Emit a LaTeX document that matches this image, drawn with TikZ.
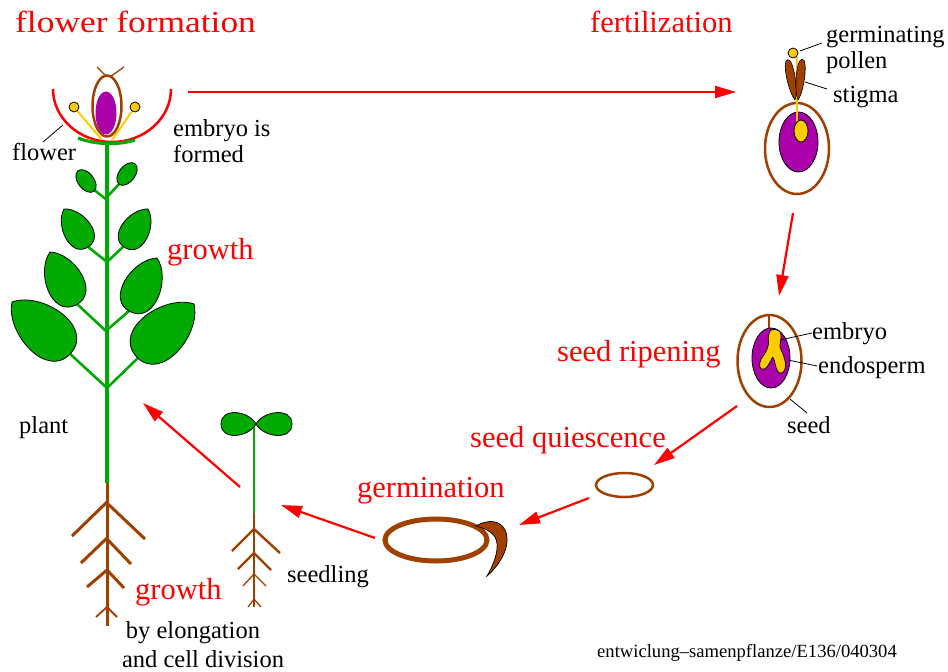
\documentclass[tikz,border=0pt]{standalone}
\usepackage{fontspec}
\setmainfont{Liberation Serif}
\usetikzlibrary{arrows.meta}

\definecolor{stagered}{RGB}{255,0,0}
\definecolor{leafgreen}{RGB}{0,170,0}
\definecolor{rootbrown}{RGB}{160,64,0}
\definecolor{ovarypurple}{RGB}{170,0,170}
\definecolor{pollenyellow}{RGB}{255,204,0}

\tikzset{
  stage/.style={text=stagered, font=\fontsize{30.5}{36}\selectfont, anchor=base west, inner sep=0pt},
  txt/.style={text=black, font=\fontsize{24.5}{29}\selectfont, anchor=base west, inner sep=0pt},
  credit/.style={text=black, font=\fontsize{18.6}{22}\selectfont, anchor=base west, inner sep=0pt},
  lifearrow/.style={draw=stagered, line width=2.2pt, -{Triangle[length=21pt,width=12pt]}},
  stemline/.style={draw=leafgreen, line width=3.2pt},
  twig/.style={draw=leafgreen, line width=2.6pt},
  rootline/.style={draw=rootbrown, line width=3pt},
  thinroot/.style={draw=rootbrown, line width=1.8pt},
  leader/.style={draw=black, line width=0.8pt},
  leafcol/.style={fill=leafgreen, draw=black, line width=0.8pt},
  seedcoat/.style={draw=rootbrown, line width=2.5pt},
  leaf/.pic={\path[leafcol] (0,0) .. controls (0.2,0.35) and (1,0.45) .. (1,0)
      .. controls (1,-0.45) and (0.2,-0.35) .. (0,0) -- cycle;},
}

\begin{document}
\begin{tikzpicture}[x=1pt, y=-1pt, line cap=butt]
\useasboundingbox (0,0) rectangle (948,672);

% ---------- stage titles ----------
\node[stage] (tflower) at (15,32) {\scalebox{1.16}[1]{flower formation}};
\node[stage] (tfert) at (590,32) {fertilization};
\node[stage] (tgrowup) at (167,259) {growth};
\node[stage] (tripen) at (557,361) {seed ripening};
\node[stage] (tquies) at (470,447) {seed quiescence};
\node[stage] (tgerm) at (357,497) {germination};
\node[stage] (tgrowlow) at (135,599) {growth};

% ---------- plant: stem and roots ----------
\draw[stemline] (107,141) -- (107,483);
\draw[rootline] (107,483) -- (107,626);
\draw[rootline] (107,502) -- (72,536);
\draw[rootline] (108,504) -- (145,539);
\draw[rootline] (107,538) -- (81,563);
\draw[rootline] (108,540) -- (131,564);
\draw[rootline] (107,570) -- (87,587);
\draw[rootline] (108,571) -- (124,588);
\draw[thinroot] (107,607) -- (96,617);
\draw[thinroot] (107,607) -- (117,617);

% ---------- plant: leaves ----------
\draw[twig] (107,200) -- (93,189);
\draw[twig] (107,197) -- (121,182);
\draw[twig] (107,262) -- (87,246);
\draw[twig] (107,262) -- (124,246);
\draw[twig] (107,332) -- (77,304);
\draw[twig] (107,330) -- (129,311);
\draw[twig] (107,388) -- (68,352);
\draw[twig] (107,388) -- (140,356);

\path[leafcol, shift={(86,181)}, rotate=-52] (0,0) ellipse[x radius=13, y radius=8];
\path[leafcol, shift={(127,174)}, rotate=52] (0,0) ellipse[x radius=13, y radius=8];
\pic[shift={(64,209)}, rotate=-57.7, xscale=45, yscale=47] {leaf};
\pic[shift={(148,209)}, rotate=-121, xscale=45, yscale=47] {leaf};
\pic[shift={(50,252)}, rotate=-64, xscale=59, yscale=62] {leaf};
\pic[shift={(157,258)}, rotate=-116.6, xscale=60, yscale=62] {leaf};
\pic[shift={(12,302)}, rotate=-41, xscale=78, yscale=80] {leaf};
\pic[shift={(194,304)}, rotate=-137.6, xscale=78, yscale=80] {leaf};

% ---------- flower ----------
\draw[stagered, line width=2.5pt] (53,89) arc[start angle=180, end angle=0, x radius=59, y radius=53];
\draw[pollenyellow, line width=2pt] (102,140) -- (74,107);
\draw[pollenyellow, line width=2pt] (112,140) -- (135,107);
\draw[fill=pollenyellow, line width=0.8pt] (74,107) circle[radius=5];
\draw[fill=pollenyellow, line width=0.8pt] (135,107) circle[radius=5];
\draw[stemline] (78,138) .. controls (95,145) and (120,145) .. (135,140);
\draw[rootbrown, line width=1.3pt] (97,67) -- (107,77);
\draw[rootbrown, line width=1.3pt] (124,67) -- (110,77);
\draw[rootbrown, line width=2.5pt, fill=white] (107,106) ellipse[x radius=14.5, y radius=30.5];
\fill[ovarypurple] (106,113) ellipse[x radius=10.5, y radius=21.5];

\node[txt] (lflower) at (12,160) {flower};
\coordinate (pflower) at (63,125);
\draw[leader] (pflower) -- (43,142);
\node[txt] (lembryo1) at (173,136) {embryo is};
\node[txt] (lembryo2) at (173,162) {formed};
\node[txt] (lplant) at (19,433) {plant};
\node[txt, anchor=base] (lelong) at (193,638) {by elongation};
\node[txt, anchor=base] (lcell) at (203,667) {and cell division};

% ---------- fertilization ----------
\draw[seedcoat] (797,148.5) ellipse[x radius=32, y radius=45.5];
\draw[fill=ovarypurple, line width=0.8pt] (798.5,142) ellipse[x radius=19.5, y radius=30];
\draw[pollenyellow, line width=2pt] (797,57) -- (797,122);
\draw[fill=pollenyellow, line width=0.8pt] (801,131) ellipse[x radius=7, y radius=11];
\tikzset{leafcol/.style={fill=rootbrown, draw=black, line width=0.6pt}}
\pic[shift={(795,100)}, rotate=100.4, xscale=41, yscale=14] {leaf};
\pic[shift={(798,100)}, rotate=84, xscale=41, yscale=14] {leaf};
\tikzset{leafcol/.style={fill=leafgreen, draw=black, line width=0.8pt}}
\draw[fill=pollenyellow, line width=0.8pt] (793,53) circle[radius=5];

\node[txt] (lgerm1) at (826,42) {germinating};
\node[txt] (lgerm2) at (826,68) {pollen};
\node[txt] (lstigma) at (833,102) {stigma};
\coordinate (ppollen) at (800,51);
\coordinate (pstigma) at (805,82);
\draw[leader] (ppollen) -- (822,43);
\draw[leader] (pstigma) -- (827,89);

% ---------- ripening seed ----------
\draw[seedcoat] (769.5,361) ellipse[x radius=32, y radius=46];
\draw[rootbrown, line width=2pt] (769,316) -- (769,328);
\draw[fill=ovarypurple, line width=0.8pt] (771,358) ellipse[x radius=19, y radius=30];
\begin{scope}[shift={(730,300)}, x=0.3333pt, y=-0.3333pt]
  \draw[fill=pollenyellow, line width=0.7pt] plot[smooth cycle, tension=0.5] coordinates {
    (132,88) (150,95) (153,115) (150,140) (160,165) (167,195) (161,215)
    (148,219) (139,205) (133,182) (128,172) (122,183) (111,201) (99,208)
    (89,200) (92,180) (107,156) (115,135) (115,110) (120,94)};
\end{scope}
\node[txt] (lembryo) at (812,339) {embryo};
\node[txt] (lendo) at (818,373) {endosperm};
\node[txt] (lseed) at (787,433) {seed};
\coordinate (pembryo) at (780,340);
\coordinate (pendo) at (788,360);
\coordinate (pseed) at (790,399);
\draw[leader] (pembryo) -- (812,333);
\draw[leader] (pendo) -- (817,366);
\draw[leader] (pseed) -- (807,413);

% ---------- quiescent seed ----------
\draw[seedcoat] (624.5,485) ellipse[x radius=28.5, y radius=12];

% ---------- germinating seed ----------
\draw[rootbrown, line width=5pt] (436,540) ellipse[x radius=51, y radius=21];
\draw[fill=rootbrown, line width=0.7pt] (476,526) .. controls (488,519) and (500,520) .. (505,530)
   .. controls (512,545) and (500,565) .. (487,576)
   .. controls (496,560) and (500,546) .. (495,537)
   .. controls (490,530) and (483,528) .. (476,526) -- cycle;

% ---------- seedling ----------
\draw[leafgreen, line width=2.2pt] (254,424) -- (254,513);
\draw[rootbrown, line width=2.4pt] (254,513) -- (254,607);
\draw[rootbrown, line width=2.4pt] (254,529) -- (232,551);
\draw[rootbrown, line width=2.4pt] (254,529) -- (280,553);
\draw[rootbrown, line width=2.4pt] (254,553) -- (238,569);
\draw[rootbrown, line width=2.4pt] (254,553) -- (271,570);
\draw[rootbrown, line width=1.3pt] (254,574) -- (243,586);
\draw[rootbrown, line width=1.3pt] (254,574) -- (266,586);
\draw[rootbrown, line width=1.3pt] (254,599) -- (248,607);
\draw[rootbrown, line width=1.3pt] (254,599) -- (261,607);
\pic[shift={(256,424)}, rotate=180, xscale=35, yscale=38] {leaf};
\pic[shift={(256,424)}, rotate=0, xscale=36, yscale=38] {leaf};
\node[txt] (lseedling) at (287,582) {seedling};

% ---------- life-cycle arrows ----------
\coordinate (a1s) at (188,92);   \coordinate (a1e) at (736,92);
\coordinate (a2s) at (793,213);  \coordinate (a2e) at (779,296);
\coordinate (a3s) at (737,406);  \coordinate (a3e) at (654,465);
\coordinate (a4s) at (589,498);  \coordinate (a4e) at (519,525);
\coordinate (a5s) at (375,538);  \coordinate (a5e) at (281,505);
\coordinate (a6s) at (240,487);  \coordinate (a6e) at (143,403);
\draw[lifearrow] (a1s) -- (a1e);
\draw[lifearrow] (a2s) -- (a2e);
\draw[lifearrow] (a3s) -- (a3e);
\draw[lifearrow] (a4s) -- (a4e);
\draw[lifearrow] (a5s) -- (a5e);
\draw[lifearrow] (a6s) -- (a6e);

\node[credit] (lcredit) at (597,657) {entwiclung–samenpflanze/E136/040304};
\end{tikzpicture}
\end{document}
